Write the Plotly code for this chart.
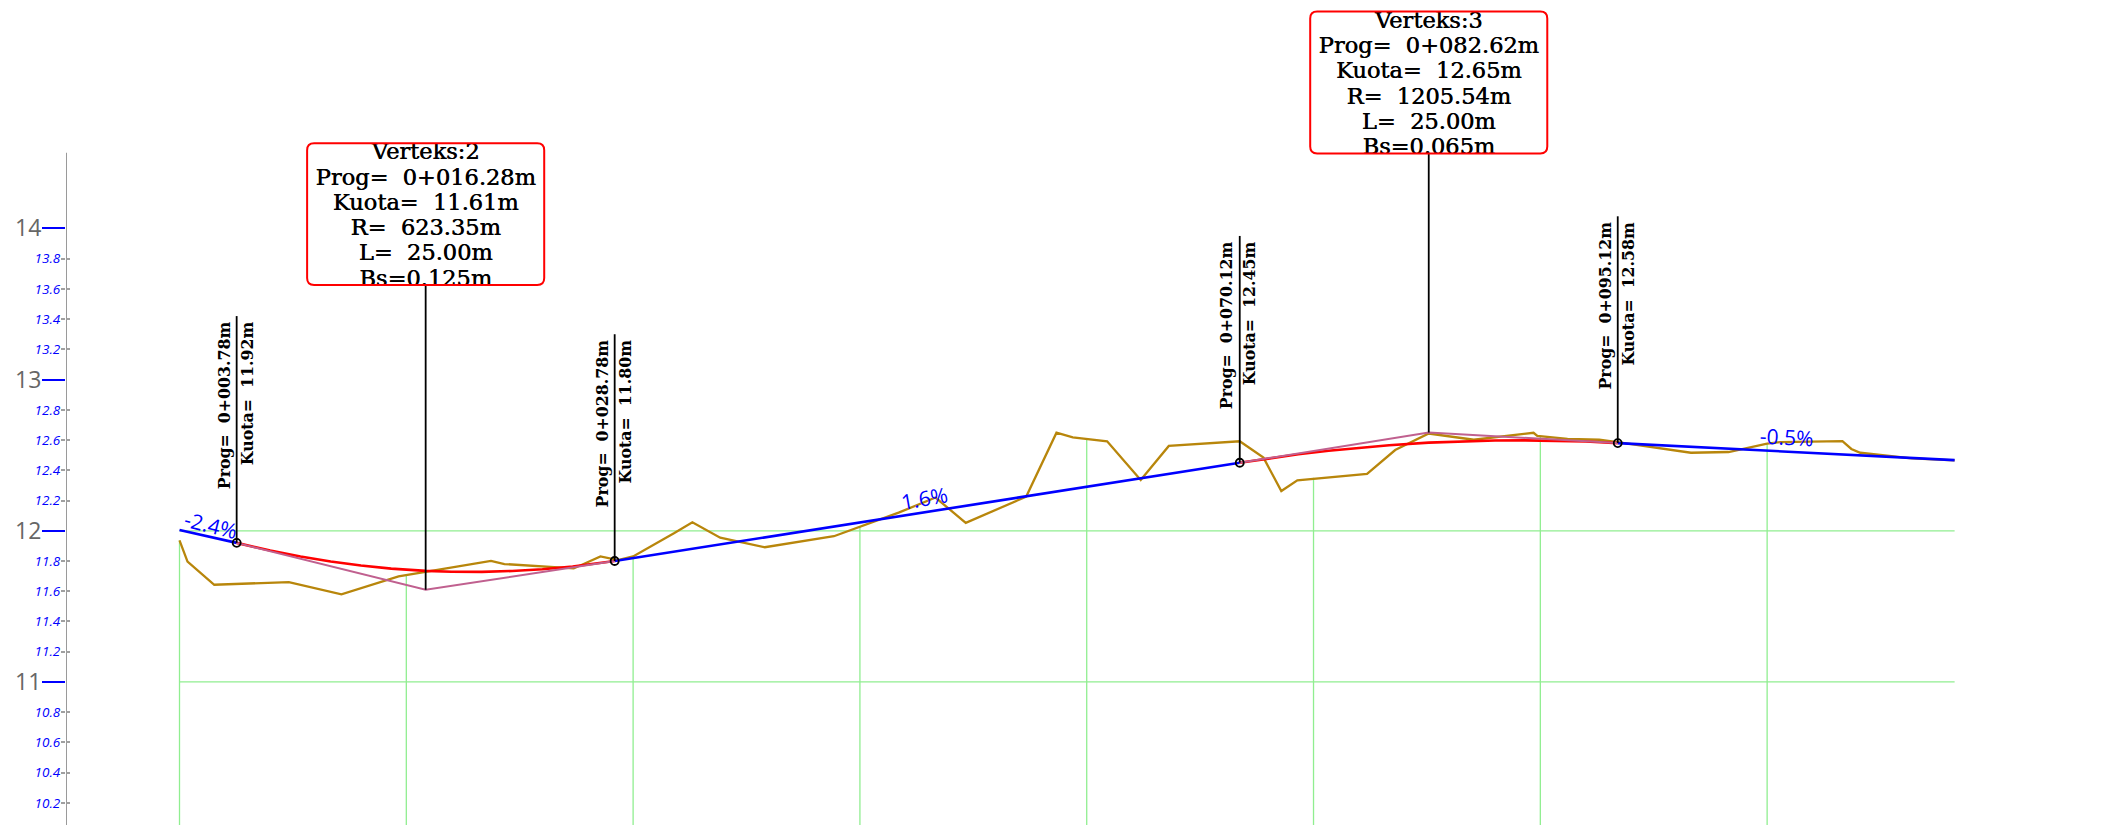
import plotly.graph_objects as go

# Elevation axis
major_ticks = [11, 12, 13, 14]
minor_ticks = [10.2, 10.4, 10.6, 10.8, 11.2, 11.4, 11.6, 11.8, 12.2, 12.4, 12.6, 12.8, 13.2, 13.4, 13.6, 13.8]
minor_labels = ["10.2", "10.4", "10.6", "10.8", "11.2", "11.4", "11.6", "11.8", "12.2", "12.4", "12.6", "12.8", "13.2", "13.4", "13.6", "13.8"]

# Green grid
grid_stations = [0, 15, 30, 45, 60, 75, 90, 105]
grid_tops = [11.936, 11.71, 11.83, 12.03, 12.61, 12.35, 12.627, 12.576]
grid_levels = [11, 12]

# Existing ground
ground_x = [0, 0.53, 2.30, 7.23, 10.71, 14.49, 20.6, 21.49, 26.07, 27.84, 29.0, 30.0, 32.7, 33.92, 35.76, 38.71,
            43.28, 47.56, 50.0, 52.0, 56.0, 58.0, 59.08, 61.35, 63.57, 65.43, 70.12, 71.69, 72.87, 73.93, 78.54,
            80.4, 82.62, 85.6, 89.55, 89.8, 91.8, 93.9, 95.1, 99.96, 102.45, 105.0, 105.85, 109.98, 110.57, 111.16,
            114.56, 117.4]
ground_y = [11.936, 11.796, 11.643, 11.661, 11.579, 11.698, 11.801, 11.78, 11.751, 11.831, 11.806, 11.83, 11.983,
            12.056, 11.954, 11.891, 11.964, 12.12, 12.22, 12.052, 12.226, 12.649, 12.618, 12.592, 12.336, 12.561,
            12.592, 12.484, 12.263, 12.334, 12.376, 12.534, 12.643, 12.602, 12.648, 12.627, 12.608, 12.602, 12.587,
            12.516, 12.521, 12.576, 12.587, 12.593, 12.541, 12.516, 12.479, 12.465]

# Design grade tangents
tangent_a_x = [0, 3.78]
tangent_a_y = [12.005, 11.92]
tangent_b_x = [28.78, 70.12]
tangent_b_y = [11.80, 12.45]
tangent_c_x = [95.12, 117.4]
tangent_c_y = [12.58, 12.467]

# Straight lines through the vertices
pvi_a_x = [3.78, 16.28, 28.78]
pvi_a_y = [11.92, 11.61, 11.80]
pvi_b_x = [70.12, 82.62, 95.12]
pvi_b_y = [12.45, 12.65, 12.58]

# Vertical curves
curve_a_x = [3.78, 6, 8, 10, 12, 14, 16.28, 18, 20, 22, 24, 26, 28.78]
curve_a_y = [11.92, 11.869, 11.83, 11.797, 11.77, 11.75, 11.735, 11.729, 11.728, 11.734, 11.746, 11.764, 11.80]
curve_b_x = [70.12, 72, 74, 76, 78, 80, 82.62, 85, 87, 89, 91, 93, 95.12]
curve_b_y = [12.45, 12.479, 12.506, 12.529, 12.549, 12.566, 12.583, 12.592, 12.597, 12.598, 12.596, 12.59, 12.58]

# Tangent points with their rotated labels
point_x = [3.78, 28.78, 70.12, 95.12]
point_y = [11.92, 11.80, 12.45, 12.58]
point_prog = ["0+003.78m", "0+028.78m", "0+070.12m", "0+095.12m"]
point_kuota = ["11.92m", "11.80m", "12.45m", "12.58m"]
stem_height = 1.5

# Vertex boxes
vertex_x = [16.28, 82.62]
vertex_y = [11.61, 12.65]
vertex_bottom = [13.626, 14.495]
vertex_top = [14.563, 15.434]
vertex_names = ["Verteks:2", "Verteks:3"]
vertex_prog = ["0+016.28m", "0+082.62m"]
vertex_kuota = ["11.61m", "12.65m"]
vertex_r = ["623.35m", "1205.54m"]
vertex_l = ["25.00m", "25.00m"]
vertex_bs = ["0.125m", "0.065m"]

# Slope labels
slope_text = ["-2.4%", "1.6%", "-0.5%"]
slope_x = [2.06, 49.3, 106.3]
slope_y = [12.035, 12.215, 12.62]
slope_angle = [14, -10, 3]

X_MIN, X_MAX = -7.507, 128.47
Y_MIN, Y_MAX = 10.054, 15.5106
AXIS_TOP = 14.5
BOX_LINE_STEP = 0.1673
BOX_TEXT_DROP = 0.018
SP = "\u00a0\u00a0"
SERIF = "DejaVu Serif"
SANS = "Open Sans"


def rounded_box(x0, x1, y0, y1, rx=0.46, ry=0.046):
    return (
        f"M {x0 + rx} {y0} L {x1 - rx} {y0} Q {x1} {y0} {x1} {y0 + ry} "
        f"L {x1} {y1 - ry} Q {x1} {y1} {x1 - rx} {y1} "
        f"L {x0 + rx} {y1} Q {x0} {y1} {x0} {y1 - ry} "
        f"L {x0} {y0 + ry} Q {x0} {y0} {x0 + rx} {y0} Z"
    )


def add_line(fig, x, y, color, width):
    fig.add_trace(go.Scatter(x=x, y=y, mode="lines", line=dict(color=color, width=width), hoverinfo="skip"))


fig = go.Figure()

# Grid
for level in grid_levels:
    add_line(fig, [grid_stations[0], tangent_c_x[-1]], [level, level], "#90EE90", 1.3)
for station, top in zip(grid_stations, grid_tops):
    add_line(fig, [station, station], [Y_MIN, top], "#90EE90", 1.3)

add_line(fig, ground_x, ground_y, "#B8860B", 2.3)

for x, y in [(tangent_a_x, tangent_a_y), (tangent_b_x, tangent_b_y), (tangent_c_x, tangent_c_y)]:
    add_line(fig, x, y, "#0000FF", 2.6)
for x, y in [(curve_a_x, curve_a_y), (curve_b_x, curve_b_y)]:
    add_line(fig, x, y, "#FF0000", 2.6)
for x, y in [(pvi_a_x, pvi_a_y), (pvi_b_x, pvi_b_y)]:
    add_line(fig, x, y, "#C0608F", 2)

# Stems and circles at the tangent points
for x, y in zip(point_x, point_y):
    add_line(fig, [x, x], [y, y + stem_height], "#000000", 1.8)
fig.add_trace(go.Scatter(
    x=point_x, y=point_y, mode="markers", hoverinfo="skip",
    marker=dict(symbol="circle-open", size=8, color="#000000", line=dict(color="#000000", width=1.8)),
))

# Box text is a trace so that the white strips can cut off what overflows the box
for x, bottom, top, name, prog, kuota, r, l, bs in zip(
    vertex_x, vertex_bottom, vertex_top, vertex_names, vertex_prog, vertex_kuota, vertex_r, vertex_l, vertex_bs
):
    lines = [name, f"Prog={SP}{prog}", f"Kuota={SP}{kuota}", f"R={SP}{r}", f"L={SP}{l}", f"Bs={bs}"]
    mid = (bottom + top) / 2 - BOX_TEXT_DROP
    fig.add_trace(go.Scatter(
        x=[x] * len(lines),
        y=[mid + (2.5 - i) * BOX_LINE_STEP for i in range(len(lines))],
        mode="text", text=lines, textposition="middle center", hoverinfo="skip",
        textfont=dict(family=SERIF, size=22.5, color="#000000", shadow="0.5px 0 0 #000000"),
    ))

# Axis line, on the second axis so that the minor labels stay drawn
fig.add_trace(go.Scatter(
    x=[X_MIN, X_MIN], y=[Y_MIN, AXIS_TOP], mode="lines", yaxis="y2", cliponaxis=False,
    line=dict(color="#808080", width=1.6), hoverinfo="skip",
))

shapes = []
for x, y, bottom, top in zip(vertex_x, vertex_y, vertex_bottom, vertex_top):
    for y0, y1 in [(bottom - 0.07, bottom), (top, top + 0.07)]:
        shapes.append(dict(type="rect", layer="above", x0=x - 7.8, x1=x + 7.8, y0=y0, y1=y1,
                           fillcolor="#FFFFFF", line=dict(width=0)))
    shapes.append(dict(type="line", layer="above", x0=x, x1=x, y0=y, y1=bottom, line=dict(color="#000000", width=1.8)))
    shapes.append(dict(type="path", layer="above", path=rounded_box(x - 7.84, x + 7.84, bottom, top),
                       line=dict(color="#FF0000", width=2)))

annotations = []
for x, y, prog, kuota in zip(point_x, point_y, point_prog, point_kuota):
    top = y + stem_height
    annotations.append(dict(
        x=x, y=top, text=f"<b>Prog={SP}{prog}</b>", textangle=-90, showarrow=False,
        xanchor="right", yanchor="top", xshift=-1, yshift=-3, font=dict(family=SERIF, size=15.8, color="#000000"),
    ))
    annotations.append(dict(
        x=x, y=top, text=f"<b>Kuota={SP}{kuota}</b>", textangle=-90, showarrow=False,
        xanchor="left", yanchor="top", xshift=-1, yshift=-3, font=dict(family=SERIF, size=15.8, color="#000000"),
    ))
for text, x, y, angle in zip(slope_text, slope_x, slope_y, slope_angle):
    annotations.append(dict(
        x=x, y=y, text=text, textangle=angle, showarrow=False,
        font=dict(family=SANS, size=21, color="#0000FF"),
    ))

fig.update_layout(
    width=2122,
    height=825,
    margin=dict(l=66, r=0, t=0, b=0),
    showlegend=False,
    paper_bgcolor="#FFFFFF",
    plot_bgcolor="#FFFFFF",
    shapes=shapes,
    annotations=annotations,
    xaxis=dict(visible=False, range=[X_MIN, X_MAX]),
    yaxis=dict(
        range=[Y_MIN, Y_MAX], showgrid=False, zeroline=False, showline=False,
        tickmode="array", tickvals=major_ticks, ticktext=[str(v) for v in major_ticks],
        ticks="outside", ticklen=23, tickwidth=2, tickcolor="#0000FF", ticklabelstandoff=-4,
        tickfont=dict(family=SANS, size=23, color="#666666"),
        minor=dict(ticks="inside", tickmode="array", tickvals=minor_ticks, ticklen=4, tickwidth=1.5, tickcolor="#A0A0A0"),
    ),
    yaxis2=dict(
        range=[Y_MIN, Y_MAX], overlaying="y", side="left", showgrid=False, zeroline=False, showline=False,
        tickmode="array", tickvals=minor_ticks, ticktext=minor_labels,
        ticks="outside", ticklen=4, tickwidth=1.5, tickcolor="#A0A0A0", ticklabelstandoff=-2,
        tickfont=dict(family=SANS, size=13.5, color="#0000FF", style="italic"),
    ),
)

fig.write_html("out.html", config={"displayModeBar": False}, post_script="document.body.style.margin='0';")
